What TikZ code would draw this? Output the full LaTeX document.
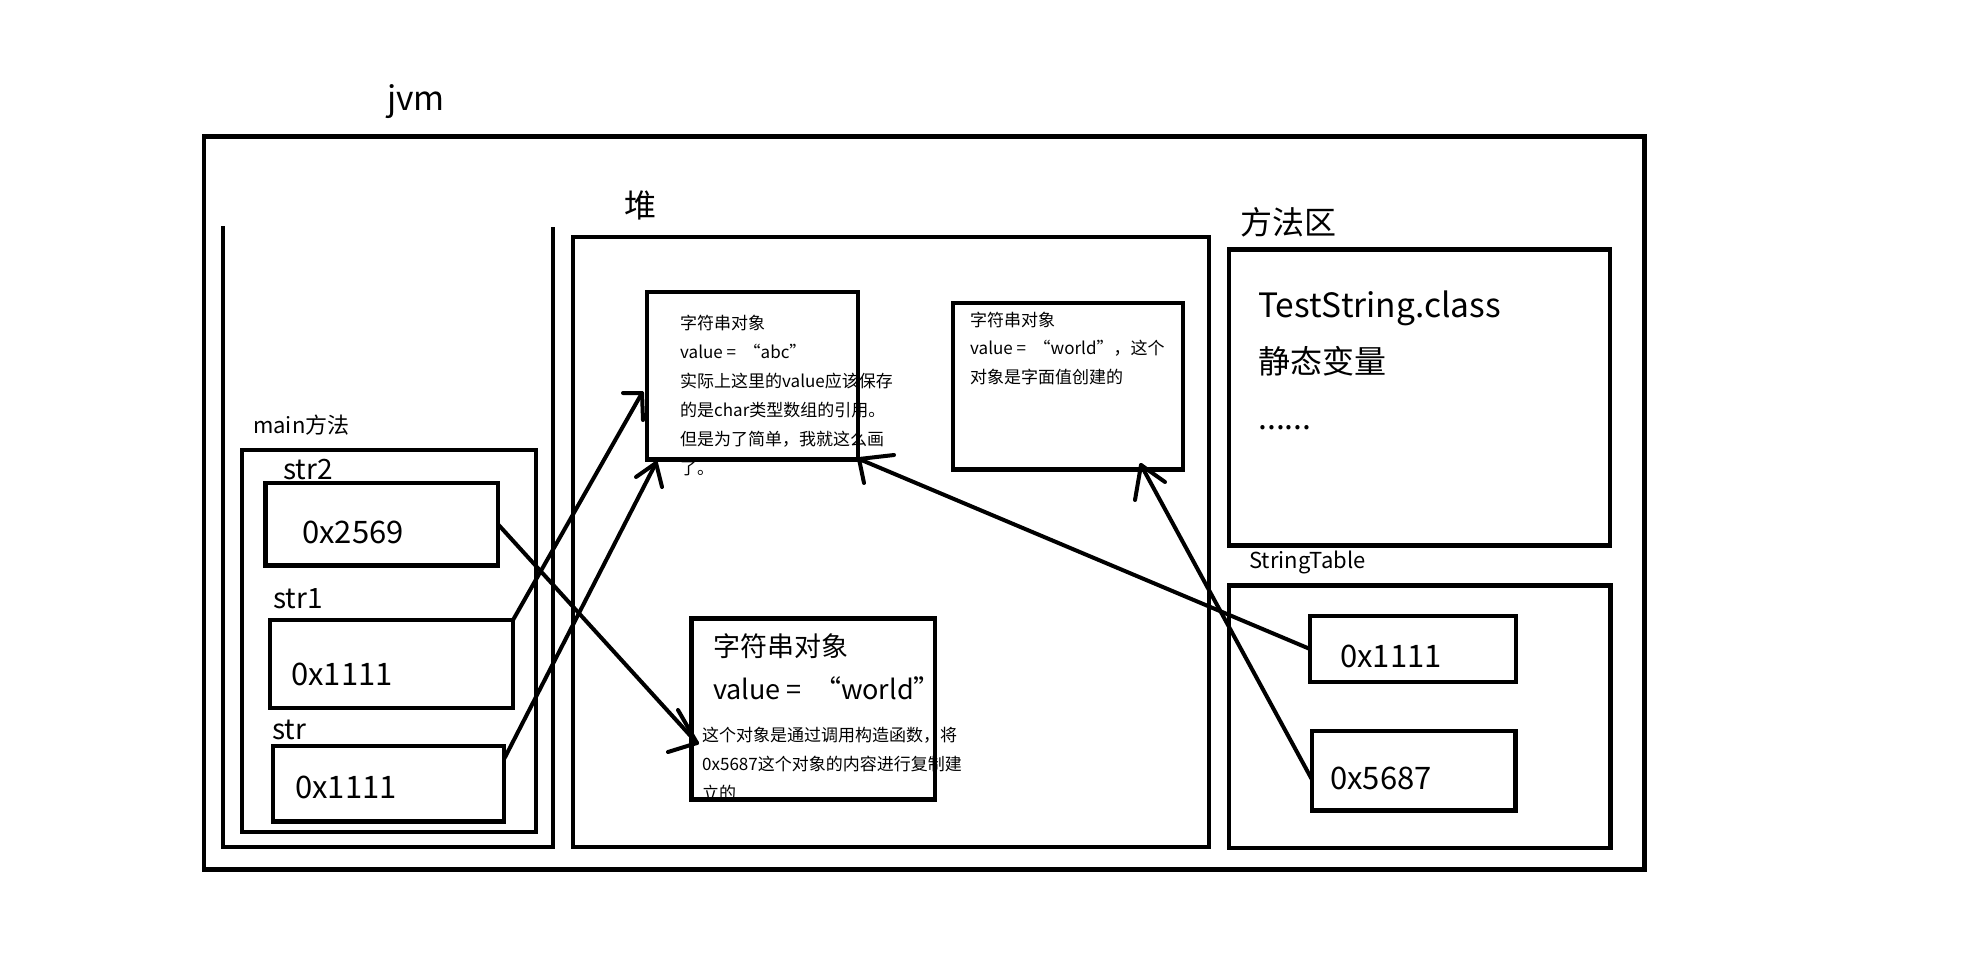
\documentclass[tikz,border=0pt]{standalone}
\usepackage{fontspec}
\setmainfont{Noto Sans CJK SC}
\usetikzlibrary{fit}
\newcommand\myfs[1]{\fontsize{#1}{#1}\selectfont}
\begin{document}
\begin{tikzpicture}[x=1pt,y=-1pt,
  box/.style={draw, line width=4.5pt, inner sep=0pt, outer sep=0pt, rectangle},
  conn/.style={line width=4pt, line cap=round, line join=round},
  lbl/.style={inner sep=0pt, anchor=base west},
  fbig/.style={font=\myfs{32}},
  flat/.style={font=\myfs{33.5}},
  fnum/.style={font=\myfs{31}},
  fvar/.style={font=\myfs{28}},
  fsub/.style={font=\myfs{22}},
  fsm/.style={font=\myfs{17}},
  fmid/.style={font=\myfs{27}}
]
\useasboundingbox (0,0) rectangle (1985,956);
% ---------- boxes ----------
\node[box, fit={(204,136.5) (1644.5,869.5)}] (jvmbox) {};
\draw[line width=4.5pt] (223,226) -- (223,847) -- (553,847) -- (553,227);
\node[box, fit={(242,450) (536,832)}] (mainbox) {};
\node[box, fit={(265.5,483) (498,565.5)}] (str2box) {};
\node[box, fit={(270,620) (513,708)}] (str1box) {};
\node[box, fit={(273,746) (504,821.5)}] (strbox) {};
\node[box, fit={(573,237) (1209,847)}] (heapbox) {};
\node[box, fit={(647,292) (858,459.5)}] (abcbox) {};
\node[box, fit={(953,303) (1183,469.5)}] (worldbox) {};
\node[box, fit={(691.5,618.5) (935,799.5)}] (newbox) {};
\node[box, fit={(1229,249.5) (1610,545.5)}] (classbox) {};
\node[box, fit={(1229,585.5) (1610.5,848)}] (tablebox) {};
\node[box, fit={(1310,616) (1516,682)}] (st1box) {};
\node[box, fit={(1312,731) (1515.5,810.5)}] (st2box) {};
% ---------- labels ----------
\node[lbl, flat] (jvml) at (387,110) {jvm};
\node[fbig, inner sep=0pt] (heapl) at (640,205) {堆};
\node[fbig, inner sep=0pt] (mal) at (1288,222) {方法区};
\node[lbl, fsub] (mainl) at (253,433) {main方法};
\node[lbl, fvar] (s2l) at (283,479) {str2};
\node[lbl, fvar] (s1l) at (273,608) {str1};
\node[lbl, fvar] (s0l) at (272,739) {str};
\node[lbl, fnum] (v2) at (302,543) {0x2569};
\node[lbl, fnum] (v1) at (291,685) {0x1111};
\node[lbl, fnum] (v0) at (295,798) {0x1111};
\node[lbl, fsub] (stl) at (1249,568) {StringTable};
\node[lbl, fnum] (a1) at (1340,667) {0x1111};
\node[lbl, fnum] (a2) at (1330,789) {0x5687};
\node[lbl, flat] (tsc) at (1258,317) {TestString.class};
\node[lbl, fbig] (jt) at (1258,373) {静态变量};
\node[lbl, fbig] (dots) at (1258,429) {......};
% abc object text
\node[lbl, fsm] (b1) at (680,329) {字符串对象};
\node[lbl, fsm] (b2) at (680,358) {value = \ “abc”};
\node[lbl, fsm] (b3) at (680,387) {实际上这里的value应该保存};
\node[lbl, fsm] (b4) at (680,416) {的是char类型数组的引用。};
\node[lbl, fsm] (b5) at (680,445) {但是为了简单，我就这么画};
\node[lbl, fsm] (b6) at (680,474) {了。};
% world literal object text
\node[lbl, fsm] (w1) at (970,326) {字符串对象};
\node[lbl, fsm] (w2) at (970,354) {value = \ “world”，这个};
\node[lbl, fsm] (w3) at (970,383) {对象是字面值创建的};
% new object text
\node[lbl, fmid] (n1) at (713,656) {字符串对象};
\node[lbl, fmid] (n2) at (713,699) {value = \ “world”};
\node[lbl, fsm] (n3) at (702,741) {这个对象是通过调用构造函数，将};
\node[lbl, fsm] (n4) at (702,770) {0x5687这个对象的内容进行复制建};
\node[lbl, fsm] (n5) at (702,799) {立的};
% ---------- connectors ----------
\coordinate (t1) at (697,743);
\coordinate (t2) at (642,393);
\coordinate (t3) at (656,463);
\coordinate (t4) at (859,459);
\coordinate (t5) at (1141,465);
\draw[conn] (str2box.east) -- (t1);
\draw[conn] (678,710) -- (t1) -- (668,752);
\draw[conn] (str1box.north east) -- (t2);
\draw[conn] (623,393) -- (t2) -- (643,420);
\draw[conn] (strbox.12) -- (t3);
\draw[conn] (636,477) -- (t3) -- (662,487);
\draw[conn] (st1box.west) -- (t4);
\draw[conn] (894,455) -- (t4) -- (864,483);
\draw[conn] (st2box.185) -- (t5);
\draw[conn] (1165,482) -- (t5) -- (1135,500);
\end{tikzpicture}
\end{document}
